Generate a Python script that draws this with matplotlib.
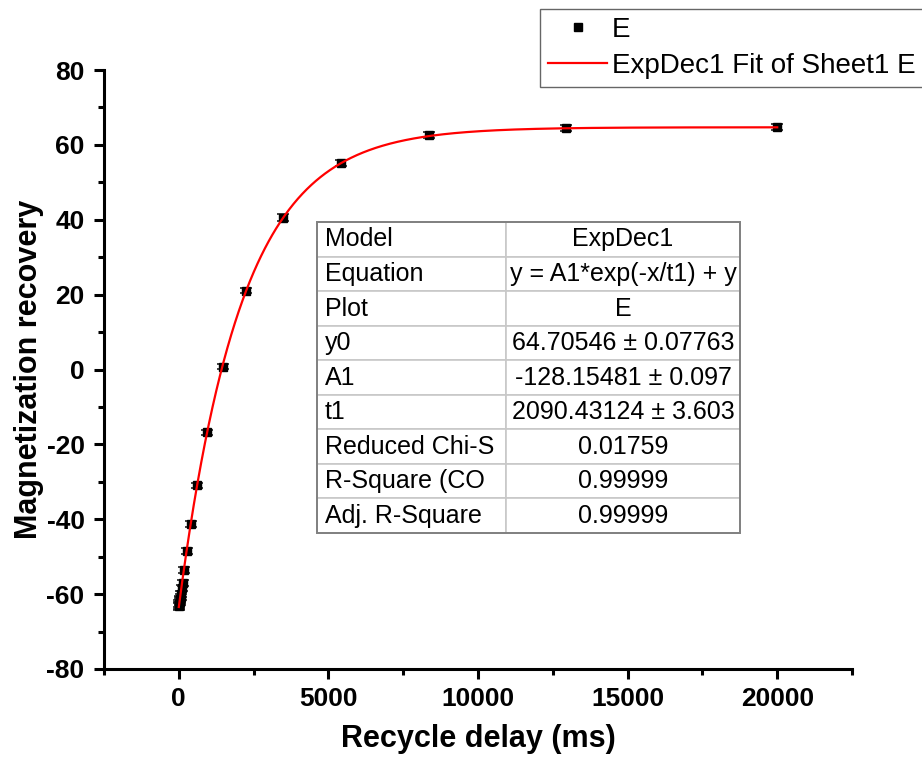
import numpy as np
import matplotlib
matplotlib.use("Agg")
import matplotlib.pyplot as plt
from matplotlib.ticker import MultipleLocator
from matplotlib.lines import Line2D

plt.rcParams['font.family'] = ['Liberation Sans', 'DejaVu Sans']
plt.rcParams['axes.unicode_minus'] = False

# recycle delay (ms) and magnetization recovery
delay = [5, 10, 20, 30, 40, 50, 60, 75, 100, 125, 170, 270, 400, 600, 930,
         1470, 2260, 3490, 5410, 8360, 12950, 20000]
magn = [-63.3, -63.0, -62.6, -62.1, -61.7, -61.2, -60.8, -60.0, -58.5, -57.0,
        -53.5, -48.5, -41.2, -30.9, -16.8, 0.8, 21.1, 40.6, 55.1, 62.6, 64.5, 64.8]
magn_err = [1.0, 0.9, 0.9, 0.8, 0.8, 0.8, 0.8, 0.8, 0.8, 0.8,
            0.8, 0.9, 0.8, 0.7, 0.7, 0.7, 0.7, 1.0, 0.8, 0.8, 0.8, 0.7]

# fit parameters shown in the table
y0 = 64.70546
A1 = -128.15481
t1 = 2090.43124

table_rows = [
    ["Model", "ExpDec1"],
    ["Equation", "y = A1*exp(-x/t1) + y"],
    ["Plot", "E"],
    ["y0", "64.70546 \u00b1 0.07763"],
    ["A1", "-128.15481 \u00b1 0.097"],
    ["t1", "2090.43124 \u00b1 3.603"],
    ["Reduced Chi-S", "0.01759"],
    ["R-Square (CO", "0.99999"],
    ["Adj. R-Square", "0.99999"],
]

fig = plt.figure(figsize=(9.22, 7.67), dpi=100)
ax = fig.add_axes([0.1128, 0.1278, 0.8113, 0.7809])

xfit = np.linspace(0, 20000, 800)
yfit = y0 + A1 * np.exp(-xfit / t1)

ax.errorbar(delay, magn, yerr=magn_err, fmt='s', color='black', ms=6,
            ecolor='#222222', elinewidth=1.2, capsize=4, capthick=1.2,
            zorder=3)
ax.plot(xfit, yfit, color='red', lw=1.6, zorder=4)

ax.set_xlim(-2500, 22500)
ax.set_ylim(-80, 80)
ax.xaxis.set_major_locator(MultipleLocator(5000))
ax.xaxis.set_minor_locator(MultipleLocator(2500))
ax.yaxis.set_major_locator(MultipleLocator(20))
ax.yaxis.set_minor_locator(MultipleLocator(10))

for side in ['top', 'right']:
    ax.spines[side].set_visible(False)
for side in ['left', 'bottom']:
    ax.spines[side].set_linewidth(2.2)

ax.tick_params(which='major', direction='out', length=7, width=2.2,
               labelsize=19)
ax.tick_params(axis='y', which='major', pad=7)
ax.tick_params(axis='x', which='major', pad=6)
ax.tick_params(which='minor', direction='out', length=4, width=2.2)
for lbl in ax.get_xticklabels() + ax.get_yticklabels():
    lbl.set_fontweight('bold')

ax.set_xlabel('Recycle delay (ms)', fontsize=22, fontweight='bold', labelpad=9)
ax.set_ylabel('Magnetization recovery', fontsize=22, fontweight='bold', labelpad=2)

tbl = ax.table(cellText=table_rows, colWidths=[0.447, 0.553],
               bbox=[0.2848, 0.227, 0.5655, 0.519], zorder=5)
tbl.auto_set_font_size(False)
for (r, c), cell in tbl.get_celld().items():
    cell.set_edgecolor('#c8c8c8')
    cell.set_linewidth(1.2)
    cell.set_facecolor('white')
    cell.get_text().set_fontsize(18)
    if c == 0:
        cell.get_text().set_ha('left')
        cell.PAD = 0.04
    else:
        cell.get_text().set_ha('center')

# outer border of the table
ax.add_patch(plt.Rectangle((0.2848, 0.227), 0.5655, 0.519, transform=ax.transAxes,
                           fill=False, edgecolor='#808080', lw=1.4, zorder=6))

handles = [Line2D([], [], ls='none', marker='s', color='black', ms=6),
           Line2D([], [], color='red', lw=1.6)]
labels = ['E', 'ExpDec1 Fit of Sheet1 E']
leg = fig.legend(handles, labels, loc='lower left',
                 bbox_to_anchor=(540 / 922, 1 - 87 / 767),
                 borderaxespad=0, fontsize=20, frameon=True, fancybox=False,
                 handlelength=2.1, handletextpad=0.2, borderpad=0.3,
                 labelspacing=0.35)
leg.get_frame().set_edgecolor('#404040')
leg.get_frame().set_linewidth(1.0)

fig.savefig('out.png', dpi=100)
